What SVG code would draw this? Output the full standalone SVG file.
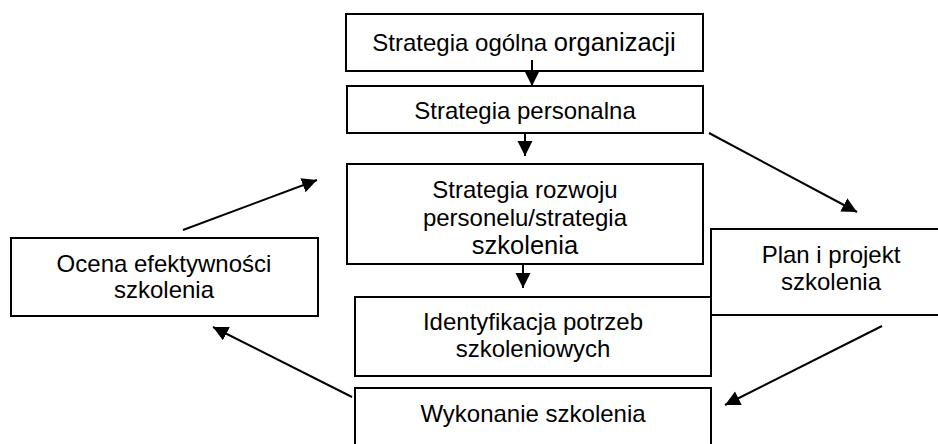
<svg xmlns="http://www.w3.org/2000/svg" width="938" height="444" viewBox="0 0 938 444">
<style>
.box{fill:#fff;stroke:#000;stroke-width:2}
.t{font-family:"Liberation Sans",Arial,sans-serif;font-size:24px;fill:#000;text-anchor:middle}
.big{font-size:25.5px}
.c{stroke:#000;stroke-width:2;fill:none;marker-end:url(#ah)}
</style>
<defs>
<marker id="ah" markerUnits="userSpaceOnUse" markerWidth="18" markerHeight="16" refX="15" refY="7.5" orient="auto">
<path d="M0,0 L15,7.5 L0,15 z" fill="#000"/>
</marker>
</defs>
<g id="n1"><rect class="box" x="346" y="14" width="357" height="57"/><text class="t" x="524" y="51">Strategia ogólna <tspan class="big">organizacji</tspan></text></g>
<g id="n2"><rect class="box" x="347" y="86" width="356" height="47"/><text class="t" x="525" y="119">Strategia personalna</text></g>
<g id="n3"><rect class="box" x="347" y="164" width="356" height="100"/><text class="t" x="525" y="198">Strategia rozwoju</text><text class="t" x="525" y="226">personelu/strategia</text><text class="t big" x="525" y="254">szkolenia</text></g>
<g id="n4"><rect class="box" x="355" y="297" width="356" height="79"/><text class="t" x="533" y="330">Identyfikacja potrzeb</text><text class="t" x="533" y="357">szkoleniowych</text></g>
<g id="n5"><rect class="box" x="355" y="388" width="356" height="70"/><text class="t" x="533" y="422">Wykonanie szkolenia</text></g>
<g id="n6"><rect class="box" x="711" y="229" width="240" height="86"/><text class="t" x="831" y="263">Plan i projekt</text><text class="t" x="831" y="290">szkolenia</text></g>
<g id="n7"><rect class="box" x="11" y="238" width="307" height="78"/><text class="t" x="164" y="272">Ocena efektywności</text><text class="t" x="164" y="298">szkolenia</text></g>
<g id="connectors">
<line class="c" x1="532" y1="60" x2="532" y2="86"/>
<line class="c" x1="525" y1="134" x2="525" y2="156"/>
<line class="c" x1="523" y1="265" x2="523" y2="288"/>
<line class="c" x1="709" y1="133" x2="857" y2="212"/>
<line class="c" x1="882" y1="326" x2="725" y2="405"/>
<line class="c" x1="352" y1="397" x2="213" y2="327"/>
<line class="c" x1="183" y1="230" x2="317" y2="180"/>
</g>
</svg>
